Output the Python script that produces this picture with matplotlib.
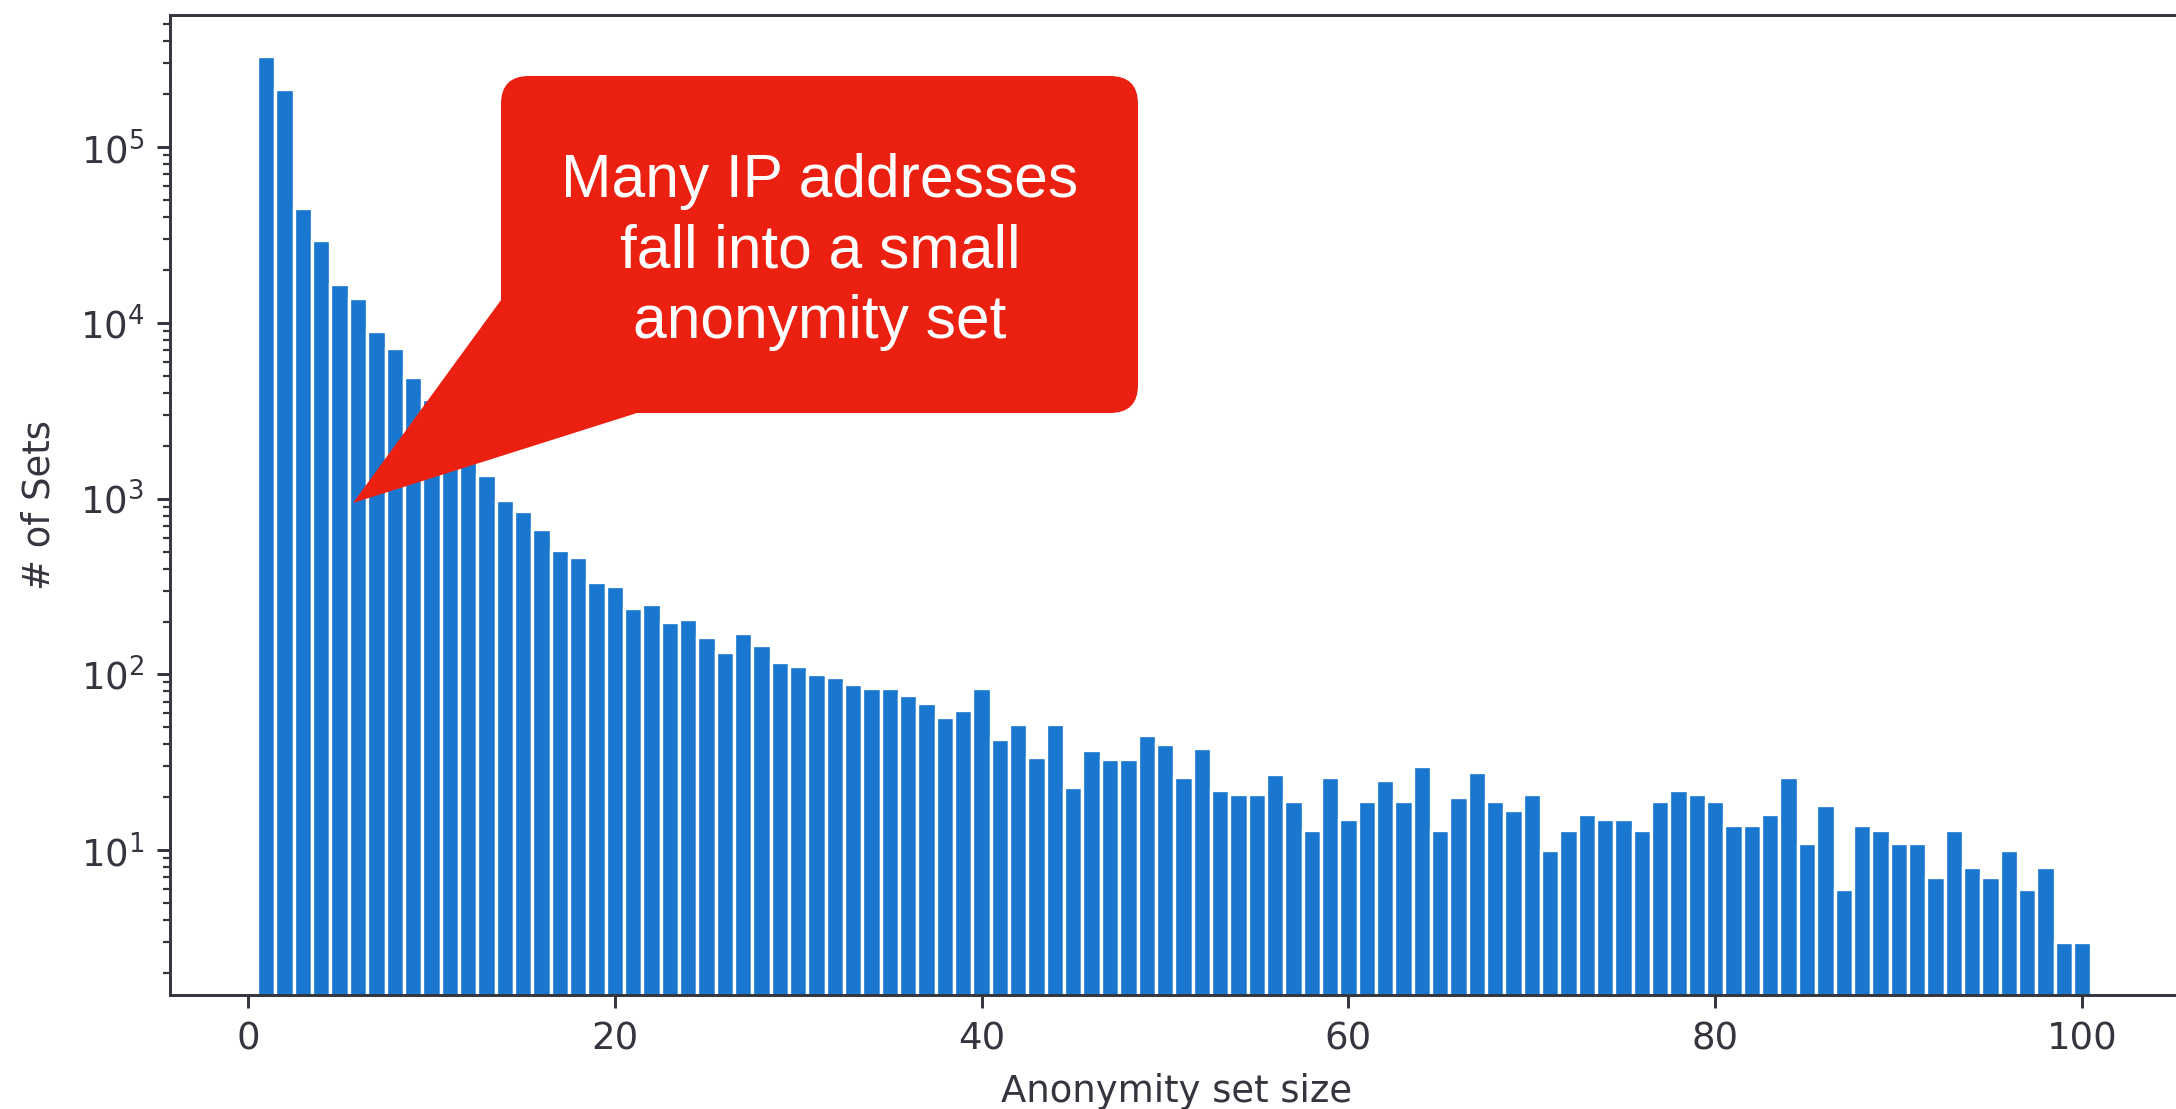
import numpy as np
import matplotlib
matplotlib.use('Agg')
import matplotlib.pyplot as plt
from matplotlib.patches import FancyBboxPatch, Polygon

# anonymity set size -> number of sets of that size
set_sizes = np.arange(1, 101)
set_counts = [
    330000, 214000, 45000, 29700, 16600, 13800, 9000, 7200, 4900, 3700,
    2700, 1900, 1360, 980, 850, 670, 510, 467, 334, 318,
    238, 251, 198, 206, 163, 135, 171, 148, 117, 112,
    101, 97, 88, 84, 84, 76, 69, 57, 63, 84,
    43, 52, 34, 52, 23, 37, 33, 33, 45, 40,
    26, 38, 22, 21, 21, 27, 19, 13, 26, 15,
    19, 25, 19, 30, 13, 20, 28, 19, 17, 21,
    10, 13, 16, 15, 15, 13, 19, 22, 21, 19,
    14, 14, 16, 26, 11, 18, 6, 14, 13, 11,
    11, 7, 13, 8, 7, 10, 6, 8, 3, 3,
]
callout_text = 'Many IP addresses\nfall into a small\nanonymity set'

DPI = 266
W, H = 2176, 1109
INK = '#35353f'
RED = '#ec2010'

plt.rcParams.update({'font.size': 10, 'text.color': INK,
                     'axes.labelcolor': INK, 'axes.edgecolor': INK,
                     'xtick.color': INK, 'ytick.color': INK})

fig = plt.figure(figsize=(W / DPI, H / DPI), dpi=DPI)
ax = fig.add_axes([170 / W, (H - 995) / H, (2183 - 170) / W, (995 - 15) / H])

ax.bar(set_sizes, set_counts, width=1.0, color='#1a77cf',
       edgecolor='white', linewidth=0.9)
ax.set_yscale('log')
ax.set_xlim(-4.25, 105.5)
ax.set_ylim(1.5, 5.65e5)
ax.set_xlabel('Anonymity set size')
ax.set_ylabel('# of Sets', labelpad=6)


def px(x, y):
    # pixel position (from top-left) -> inches for dpi_scale_trans
    return (x / DPI, (H - y) / DPI)


# speech-bubble callout pointing at the small set sizes
box = FancyBboxPatch(px(501, 413), (1138 - 501) / DPI, (413 - 76) / DPI,
                     boxstyle='round,pad=0,rounding_size=0.105',
                     transform=fig.dpi_scale_trans, fc=RED, ec='none')
tail = Polygon([px(501, 300), px(353, 503), px(637, 413), px(700, 300)],
               closed=True, transform=fig.dpi_scale_trans, fc=RED, ec='none')
fig.add_artist(tail)
fig.add_artist(box)
fig.text(*px(820, 252), callout_text, transform=fig.dpi_scale_trans,
         ha='center', va='center', color='white', fontsize=16.4,
         family=['Liberation Sans', 'DejaVu Sans'], linespacing=1.3)

fig.savefig('out.png', dpi=DPI)
